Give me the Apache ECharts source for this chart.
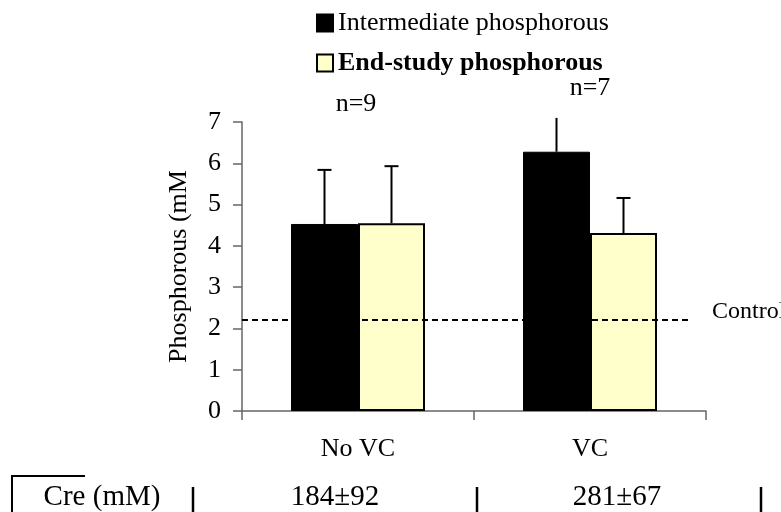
<!DOCTYPE html>
<html><head><meta charset="utf-8">
<script src="https://cdn.jsdelivr.net/npm/echarts@6/dist/echarts.min.js"></script>
<style>html,body{margin:0;padding:0;background:#fff}#c{width:781px;height:512px}</style>
</head><body><div id="c"></div>
<script>
const categories = ['No VC', 'VC'];
const seriesNames = ['Intermediate phosphorous', 'End-study phosphorous'];
const intermediate = [4.53, 6.28];
const intermediateErrTop = [5.84, 7.10];
const endStudy = [4.55, 4.31];
const endStudyErrTop = [5.93, 5.16];
const controlValue = 2.2;
const controlLabel = 'Control';
const nLabels = ['n=9', 'n=7'];
const yMin = 0, yMax = 7, yStep = 1;
const yAxisName = 'Phosphorous (mM';
const tableLabel = 'Cre (mM)';
const creValues = ['184±92', '281±67'];

const FONT = '"Liberation Serif", "Times New Roman", serif';
const chart = echarts.init(document.getElementById('c'), null, {renderer: 'canvas'});

function errRender(offset) {
  return function (params, api) {
    const c = api.value(0), v = api.value(1), t = api.value(2);
    const p0 = api.coord([c, v]);
    const p1 = api.coord([c, t]);
    const x = p0[0] + offset;
    const children = [{type: 'line', shape: {x1: x, y1: p0[1], x2: x, y2: p1[1]}, style: {stroke: '#000', lineWidth: 2}}];
    if (t <= yMax) children.push({type: 'line', shape: {x1: x - 7, y1: p1[1], x2: x + 7, y2: p1[1]}, style: {stroke: '#000', lineWidth: 2}});
    return {type: 'group', children};
  };
}

const option = {
  animation: false,
  backgroundColor: '#fff',
  textStyle: {fontFamily: FONT, color: '#000'},
  grid: {left: 242, right: 75, top: 122, bottom: 101},
  legend: {
    orient: 'vertical', left: 311, top: 5, itemGap: 14,
    itemWidth: 16, itemHeight: 17, icon: 'rect',
    data: seriesNames,
    formatter: function (name) { return name === seriesNames[1] ? '{b|' + name + '}' : '{n|' + name + '}'; },
    textStyle: {
      fontFamily: FONT, fontSize: 26, color: '#000',
      rich: {
        n: {fontFamily: FONT, fontSize: 26, color: '#000'},
        b: {fontFamily: FONT, fontSize: 26, color: '#000', fontWeight: 'bold'}
      }
    }
  },
  xAxis: {
    type: 'category', data: categories,
    axisLine: {lineStyle: {color: '#666', width: 1.5}},
    axisTick: {show: true, length: 9, lineStyle: {color: '#666', width: 1.5}},
    axisLabel: {fontFamily: FONT, fontSize: 26, color: '#000', margin: 25}
  },
  yAxis: {
    type: 'value', min: yMin, max: yMax, interval: yStep,
    name: yAxisName, nameLocation: 'middle', nameGap: 50,
    nameTextStyle: {fontFamily: FONT, fontSize: 26, color: '#000'},
    axisLine: {show: true, lineStyle: {color: '#666', width: 1.5}},
    axisTick: {show: true, length: 9, lineStyle: {color: '#666', width: 1.5}},
    axisLabel: {fontFamily: FONT, fontSize: 26, color: '#000', margin: 21},
    splitLine: {show: false}
  },
  series: [
    {
      name: seriesNames[0], type: 'bar', data: intermediate,
      barWidth: 67, barGap: '0%',
      itemStyle: {color: '#000', borderColor: '#000', borderWidth: 1},
      markLine: {
        silent: true, symbol: 'none',
        lineStyle: {type: [6, 4], color: '#000', width: 1.8},
        label: {show: false},
        data: [[{coord: [0, controlValue], x: 242}, {coord: [1, controlValue], x: 692}]]
      },
      z: 2
    },
    {
      name: seriesNames[1], type: 'bar', data: endStudy,
      barWidth: 67,
      itemStyle: {color: '#FFFFCC', borderColor: '#000', borderWidth: 2},
      z: 2
    },
    {
      type: 'custom', renderItem: errRender(-33.5), clip: false, z: 3,
      data: categories.map((c, i) => [i, intermediate[i], intermediateErrTop[i]])
    },
    {
      type: 'custom', renderItem: errRender(33.5), clip: false, z: 3,
      data: categories.map((c, i) => [i, endStudy[i], endStudyErrTop[i]])
    }
  ],
  graphic: [
    {type: 'text', x: 356, y: 104, style: {text: nLabels[0], font: '26px ' + FONT, fill: '#000', align: 'center', verticalAlign: 'middle'}},
    {type: 'text', x: 590, y: 88, style: {text: nLabels[1], font: '26px ' + FONT, fill: '#000', align: 'center', verticalAlign: 'middle'}},
    {type: 'text', x: 712, y: 312, style: {text: controlLabel, font: '24px ' + FONT, fill: '#000', align: 'left', verticalAlign: 'middle'}},
    {type: 'polyline', shape: {points: [[85, 476], [12, 476], [12, 512]]}, style: {stroke: '#000', lineWidth: 2, fill: null}},
    {type: 'line', shape: {x1: 193, y1: 487, x2: 193, y2: 512}, style: {stroke: '#000', lineWidth: 2.5}},
    {type: 'line', shape: {x1: 477, y1: 487, x2: 477, y2: 512}, style: {stroke: '#000', lineWidth: 2.5}},
    {type: 'line', shape: {x1: 761, y1: 487, x2: 761, y2: 512}, style: {stroke: '#000', lineWidth: 2.5}},
    {type: 'text', x: 102, y: 497, style: {text: tableLabel, font: '29px ' + FONT, fill: '#000', align: 'center', verticalAlign: 'middle'}},
    {type: 'text', x: 335, y: 497, style: {text: creValues[0], font: '29px ' + FONT, fill: '#000', align: 'center', verticalAlign: 'middle'}},
    {type: 'text', x: 617, y: 497, style: {text: creValues[1], font: '29px ' + FONT, fill: '#000', align: 'center', verticalAlign: 'middle'}}
  ]
};
chart.setOption(option);
</script>
</body></html>
